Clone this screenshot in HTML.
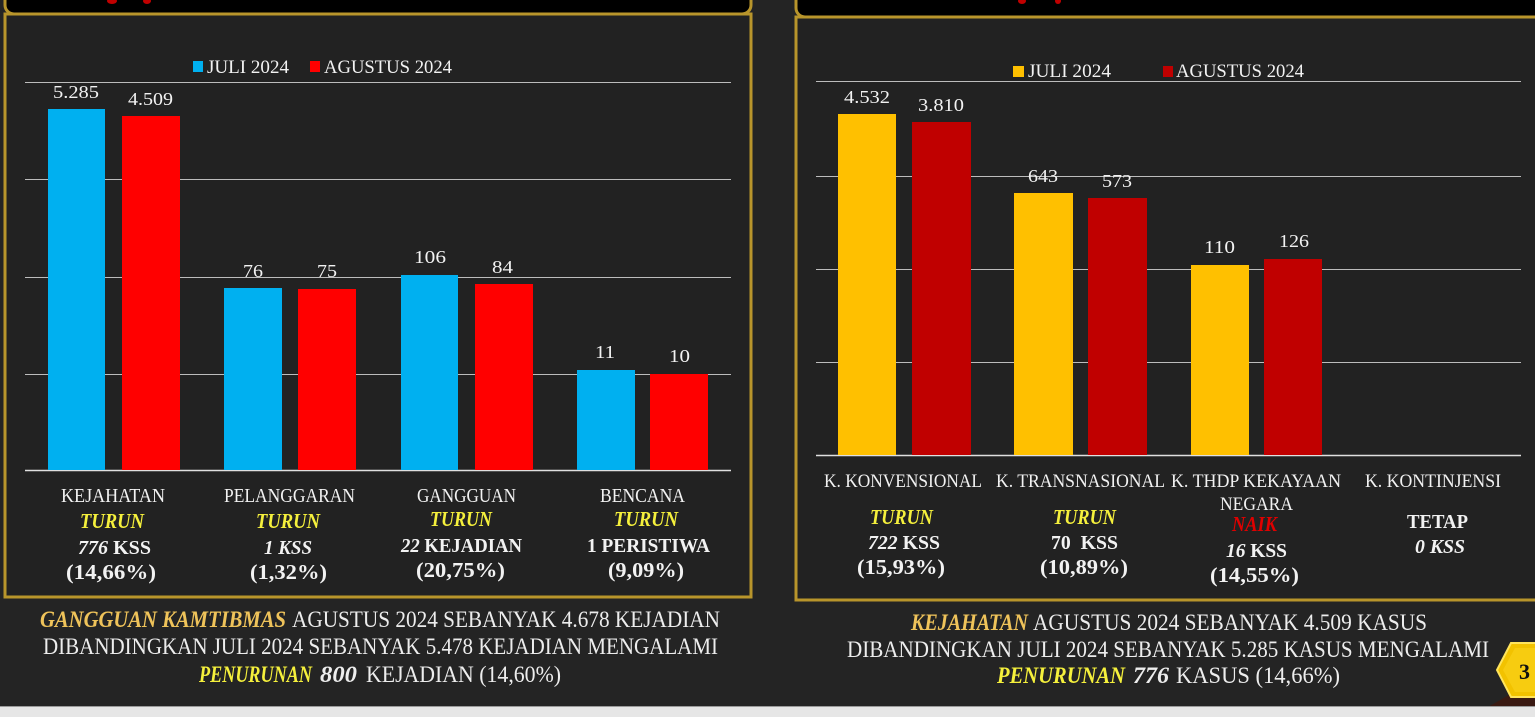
<!DOCTYPE html>
<html><head><meta charset="utf-8"><style>
html,body{margin:0;padding:0;background:#232323;}
svg{display:block;}
text{font-family:"Liberation Serif",serif;}
</style></head><body>
<svg width="1535" height="717" viewBox="0 0 1535 717" xmlns="http://www.w3.org/2000/svg">
<rect x="0" y="0" width="1535" height="717" fill="#242424"/>
<!-- Left header + panel -->
<rect x="5" y="-30" width="746" height="44" rx="9" fill="#000" stroke="#B8952B" stroke-width="3"/>
<rect x="5" y="14" width="746" height="583" fill="#222222" stroke="#B8952B" stroke-width="3"/>
<ellipse cx="112" cy="1" rx="5" ry="3" fill="#c00000"/>
<ellipse cx="147" cy="1" rx="4" ry="3" fill="#c00000"/>
<!-- Right header + panel -->
<rect x="796" y="-30" width="760" height="47" rx="9" fill="#000" stroke="#B8952B" stroke-width="3"/>
<rect x="796" y="17" width="760" height="583" fill="#222222" stroke="#B8952B" stroke-width="3"/>
<ellipse cx="1022" cy="1" rx="4" ry="3" fill="#c00000"/>
<ellipse cx="1058" cy="1" rx="3" ry="3" fill="#c00000"/>

<!-- Left gridlines -->
<g stroke="#BDBDBD" stroke-width="1">
<line x1="25" y1="82.5" x2="731" y2="82.5"/>
<line x1="25" y1="179.5" x2="731" y2="179.5"/>
<line x1="25" y1="277.5" x2="731" y2="277.5"/>
<line x1="25" y1="374.5" x2="731" y2="374.5"/>
</g>
<line x1="25" y1="470.5" x2="731" y2="470.5" stroke="#E0E0E0" stroke-width="1.5"/>
<!-- Left bars -->
<g fill="#00B0F0">
<rect x="48" y="109" width="57" height="361"/>
<rect x="224" y="288" width="58" height="182"/>
<rect x="401" y="275" width="57" height="195"/>
<rect x="577" y="370" width="58" height="100"/>
</g>
<g fill="#FF0000">
<rect x="122" y="116" width="58" height="354"/>
<rect x="298" y="289" width="58" height="181"/>
<rect x="475" y="284" width="58" height="186"/>
<rect x="650" y="374" width="58" height="96"/>
</g>
<!-- Left legend -->
<rect x="193" y="61" width="10" height="11" fill="#00B0F0"/>
<text x="207" y="73" font-size="19" fill="#F2F2F2" textLength="82" lengthAdjust="spacingAndGlyphs">JULI 2024</text>
<rect x="310" y="61" width="10" height="11" fill="#FF0000"/>
<text x="324" y="73" font-size="19" fill="#F2F2F2" textLength="128" lengthAdjust="spacingAndGlyphs">AGUSTUS 2024</text>
<!-- Left data labels -->
<g font-size="18" fill="#F2F2F2">
<text x="53" y="98" textLength="46" lengthAdjust="spacingAndGlyphs">5.285</text>
<text x="128" y="105" textLength="45" lengthAdjust="spacingAndGlyphs">4.509</text>
<text x="243" y="277" textLength="20" lengthAdjust="spacingAndGlyphs">76</text>
<text x="317" y="277" textLength="20" lengthAdjust="spacingAndGlyphs">75</text>
<text x="414" y="263" textLength="32" lengthAdjust="spacingAndGlyphs">106</text>
<text x="492" y="273" textLength="21" lengthAdjust="spacingAndGlyphs">84</text>
<text x="595" y="358" textLength="20" lengthAdjust="spacingAndGlyphs">11</text>
<text x="669" y="362" textLength="21" lengthAdjust="spacingAndGlyphs">10</text>
</g>
<!-- Left categories -->
<g font-size="20" fill="#F2F2F2">
<text x="61" y="502" textLength="104" lengthAdjust="spacingAndGlyphs">KEJAHATAN</text>
<text x="224" y="502" textLength="131" lengthAdjust="spacingAndGlyphs">PELANGGARAN</text>
<text x="417" y="502" textLength="99" lengthAdjust="spacingAndGlyphs">GANGGUAN</text>
<text x="600" y="502" textLength="85" lengthAdjust="spacingAndGlyphs">BENCANA</text>
</g>
<g font-size="21" fill="#F5F03C" font-weight="bold" font-style="italic">
<text x="80" y="528" textLength="64" lengthAdjust="spacingAndGlyphs">TURUN</text>
<text x="256" y="528" textLength="64" lengthAdjust="spacingAndGlyphs">TURUN</text>
<text x="430" y="526" textLength="62" lengthAdjust="spacingAndGlyphs">TURUN</text>
<text x="614" y="526" textLength="64" lengthAdjust="spacingAndGlyphs">TURUN</text>
</g>
<g font-size="20" fill="#F2F2F2" font-weight="bold">
<text x="78" y="554" textLength="73" lengthAdjust="spacingAndGlyphs"><tspan font-style="italic">776</tspan> KSS</text>
<text x="264" y="554" textLength="48" lengthAdjust="spacingAndGlyphs" font-style="italic">1 KSS</text>
<text x="401" y="552" textLength="121" lengthAdjust="spacingAndGlyphs"><tspan font-style="italic">22</tspan> KEJADIAN</text>
<text x="587" y="552" textLength="123" lengthAdjust="spacingAndGlyphs">1 PERISTIWA</text>
<text x="66" y="579" font-size="21" textLength="90" lengthAdjust="spacingAndGlyphs">(14,66%)</text>
<text x="250" y="579" font-size="21" textLength="77" lengthAdjust="spacingAndGlyphs">(1,32%)</text>
<text x="416" y="577" font-size="21" textLength="89" lengthAdjust="spacingAndGlyphs">(20,75%)</text>
<text x="608" y="577" font-size="21" textLength="76" lengthAdjust="spacingAndGlyphs">(9,09%)</text>
</g>
<!-- Left summary -->
<g font-size="23" fill="#EDEDED">
<text x="40" y="627" textLength="246" lengthAdjust="spacingAndGlyphs" font-weight="bold" font-style="italic" fill="#EFC35A">GANGGUAN KAMTIBMAS</text>
<text x="292" y="627" textLength="428" lengthAdjust="spacingAndGlyphs">AGUSTUS 2024 SEBANYAK 4.678 KEJADIAN</text>
<text x="43" y="654" textLength="675" lengthAdjust="spacingAndGlyphs">DIBANDINGKAN JULI 2024 SEBANYAK 5.478 KEJADIAN MENGALAMI</text>
<text x="199" y="682" textLength="113" lengthAdjust="spacingAndGlyphs" font-weight="bold" font-style="italic" fill="#F5F03C">PENURUNAN</text>
<text x="320" y="682" textLength="37" lengthAdjust="spacingAndGlyphs" font-weight="bold" font-style="italic">800</text>
<text x="366" y="682" textLength="195" lengthAdjust="spacingAndGlyphs">KEJADIAN (14,60%)</text>
</g>

<!-- Right gridlines -->
<g stroke="#BDBDBD" stroke-width="1">
<line x1="816" y1="81.5" x2="1521" y2="81.5"/>
<line x1="816" y1="176.5" x2="1521" y2="176.5"/>
<line x1="816" y1="269.5" x2="1521" y2="269.5"/>
<line x1="816" y1="362.5" x2="1521" y2="362.5"/>
</g>
<line x1="816" y1="455.5" x2="1521" y2="455.5" stroke="#E0E0E0" stroke-width="1.5"/>
<!-- Right bars -->
<g fill="#FFC000">
<rect x="838" y="114" width="58" height="341"/>
<rect x="1014" y="193" width="59" height="262"/>
<rect x="1191" y="265" width="58" height="190"/>
</g>
<g fill="#C00000">
<rect x="912" y="122" width="59" height="333"/>
<rect x="1088" y="198" width="59" height="257"/>
<rect x="1264" y="259" width="58" height="196"/>
</g>
<!-- Right legend -->
<rect x="1013" y="66" width="11" height="11" fill="#FFC000"/>
<text x="1028" y="77" font-size="19" fill="#F2F2F2" textLength="83" lengthAdjust="spacingAndGlyphs">JULI 2024</text>
<rect x="1163" y="66" width="10" height="11" fill="#C00000"/>
<text x="1176" y="77" font-size="19" fill="#F2F2F2" textLength="128" lengthAdjust="spacingAndGlyphs">AGUSTUS 2024</text>
<!-- Right data labels -->
<g font-size="18" fill="#F2F2F2">
<text x="844" y="103" textLength="46" lengthAdjust="spacingAndGlyphs">4.532</text>
<text x="918" y="111" textLength="46" lengthAdjust="spacingAndGlyphs">3.810</text>
<text x="1028" y="182" textLength="30" lengthAdjust="spacingAndGlyphs">643</text>
<text x="1102" y="187" textLength="30" lengthAdjust="spacingAndGlyphs">573</text>
<text x="1204" y="253" textLength="31" lengthAdjust="spacingAndGlyphs">110</text>
<text x="1279" y="247" textLength="30" lengthAdjust="spacingAndGlyphs">126</text>
</g>
<!-- Right categories -->
<g font-size="19" fill="#F2F2F2">
<text x="824" y="487" textLength="158" lengthAdjust="spacingAndGlyphs">K. KONVENSIONAL</text>
<text x="996" y="487" textLength="169" lengthAdjust="spacingAndGlyphs">K. TRANSNASIONAL</text>
<text x="1171" y="487" textLength="170" lengthAdjust="spacingAndGlyphs">K. THDP KEKAYAAN</text>
<text x="1220" y="510" textLength="73" lengthAdjust="spacingAndGlyphs">NEGARA</text>
<text x="1365" y="487" textLength="136" lengthAdjust="spacingAndGlyphs">K. KONTINJENSI</text>
</g>
<g font-size="21" font-weight="bold" font-style="italic">
<text x="870" y="524" fill="#F5F03C" textLength="63" lengthAdjust="spacingAndGlyphs">TURUN</text>
<text x="1053" y="524" fill="#F5F03C" textLength="63" lengthAdjust="spacingAndGlyphs">TURUN</text>
<text x="1232" y="531" fill="#E00000" textLength="45" lengthAdjust="spacingAndGlyphs">NAIK</text>
</g>
<g font-size="20" fill="#F2F2F2" font-weight="bold">
<text x="1407" y="528" textLength="61" lengthAdjust="spacingAndGlyphs">TETAP</text>
<text x="868" y="549" textLength="72" lengthAdjust="spacingAndGlyphs"><tspan font-style="italic">722</tspan> KSS</text>
<text x="1051" y="549" textLength="67" lengthAdjust="spacingAndGlyphs" xml:space="preserve">70  KSS</text>
<text x="1226" y="557" textLength="61" lengthAdjust="spacingAndGlyphs"><tspan font-style="italic">16</tspan> KSS</text>
<text x="1415" y="553" textLength="50" lengthAdjust="spacingAndGlyphs" font-style="italic">0 KSS</text>
<text x="857" y="574" font-size="21" textLength="88" lengthAdjust="spacingAndGlyphs">(15,93%)</text>
<text x="1040" y="574" font-size="21" textLength="88" lengthAdjust="spacingAndGlyphs">(10,89%)</text>
<text x="1210" y="582" font-size="21" textLength="89" lengthAdjust="spacingAndGlyphs">(14,55%)</text>
</g>
<!-- Right summary -->
<g font-size="23" fill="#EDEDED">
<text x="911" y="630" textLength="117" lengthAdjust="spacingAndGlyphs" font-weight="bold" font-style="italic" fill="#EFC35A">KEJAHATAN</text>
<text x="1033" y="630" textLength="394" lengthAdjust="spacingAndGlyphs">AGUSTUS 2024 SEBANYAK 4.509 KASUS</text>
<text x="847" y="657" textLength="642" lengthAdjust="spacingAndGlyphs">DIBANDINGKAN JULI 2024 SEBANYAK 5.285 KASUS MENGALAMI</text>
<text x="997" y="683" textLength="128" lengthAdjust="spacingAndGlyphs" font-weight="bold" font-style="italic" fill="#F5F03C">PENURUNAN</text>
<text x="1133" y="683" textLength="36" lengthAdjust="spacingAndGlyphs" font-weight="bold" font-style="italic">776</text>
<text x="1176" y="683" textLength="164" lengthAdjust="spacingAndGlyphs">KASUS (14,66%)</text>
</g>

<!-- Hexagon badge -->
<polygon points="1488,707 1535,680 1535,707" fill="#3a1a12"/>
<polygon points="1497,670 1511,643 1545,643 1559,670 1545,697 1511,697" fill="#F2C200" stroke="#FFE45C" stroke-width="2"/>
<polygon points="1503,670 1515,648 1545,648 1557,670 1545,692 1515,692" fill="#F7CC10"/>
<text x="1519" y="679" font-family="Liberation Sans, sans-serif" font-size="22" font-weight="bold" fill="#111">3</text>

<!-- Bottom strip -->
<rect x="0" y="706" width="1535" height="11" fill="#E6E6E6"/>
<line x1="0" y1="706.5" x2="1535" y2="706.5" stroke="#9a9a9a" stroke-width="1"/>
</svg>
</body></html>
